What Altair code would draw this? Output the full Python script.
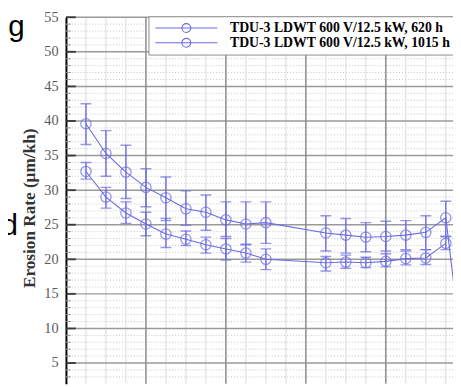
import altair as alt
import pandas as pd

# ---- data ----
series_names = ["TDU-3 LDWT 600 V/12.5 kW, 620 h", "TDU-3 LDWT 600 V/12.5 kW, 1015 h"]
x_pos = [1, 2, 3, 4, 5, 6, 7, 8, 9, 10, 13, 14, 15, 16, 17, 18, 19]

upper = [39.6, 35.3, 32.6, 30.4, 28.9, 27.3, 26.8, 25.7, 25.1, 25.3, 23.8, 23.5, 23.2, 23.3, 23.5, 23.9, 26.0]
upper_hi = [42.5, 38.6, 36.5, 33.1, 31.9, 29.9, 29.3, 28.3, 28.3, 28.3, 26.3, 25.9, 25.3, 25.5, 25.6, 26.3, 28.4]
upper_lo = [36.6, 32.0, 28.8, 27.6, 25.6, 24.9, 24.2, 23.3, 22.1, 22.3, 21.2, 20.9, 21.1, 21.2, 21.4, 21.4, 23.3]

lower = [32.7, 29.0, 26.7, 25.1, 23.65, 22.9, 22.1, 21.5, 20.9, 20.0, 19.5, 19.6, 19.5, 19.7, 20.1, 20.2, 22.3]
lower_hi = [34.0, 30.4, 28.3, 26.8, 25.9, 24.1, 23.2, 23.0, 22.2, 21.5, 20.4, 20.6, 20.3, 20.8, 21.2, 21.4, 23.3]
lower_lo = [31.6, 27.4, 25.2, 23.4, 21.7, 22.0, 20.9, 19.9, 19.6, 18.5, 18.3, 18.7, 18.8, 18.9, 19.2, 19.25, 21.4]

# continuation of the upper curve beyond the right edge (cut off)
upper_next_x = [20]
upper_next_y = [2.0]

y_major = [5, 10, 15, 20, 25, 30, 35, 40, 45, 50, 55]
y_minor = [v for v in range(3, 55) if v % 5 != 0]
x_major = [4, 8, 12, 16]
x_minor = [v for v in range(1, 20) if v % 4 != 0]

COLOR = "#6a6ae6"
SERIF = "Liberation Serif"

# ---- tables ----
pts = pd.DataFrame({
    "series": [series_names[0]] * len(x_pos) + [series_names[1]] * len(x_pos),
    "x": x_pos + x_pos,
    "y": upper + lower,
    "hi": upper_hi + lower_hi,
    "lo": upper_lo + lower_lo,
})
line_df = pd.concat([
    pts[["series", "x", "y"]],
    pd.DataFrame({"series": [series_names[0]] * len(upper_next_x), "x": upper_next_x, "y": upper_next_y}),
], ignore_index=True)

xs = alt.Scale(domain=[0, 19.36], nice=False, zero=False)
ys = alt.Scale(domain=[2.02, 55], nice=False, zero=False)

yaxis = alt.Axis(
    values=y_major, tickSize=0, labelPadding=8, labelFont=SERIF, labelFontSize=14.5,
    labelColor="#5a5a5a", domainColor="black", domainWidth=2, grid=False,
    title="Erosion Rate (µm/kh)", titleFont=SERIF, titleFontWeight="bold", titleFontSize=17.5,
    titleColor="#333333", titleAngle=-90, titleX=-37, titleY=194, titleAlign="center",
    titleBaseline="middle",
)


def Y(field):
    return alt.Y(field, scale=ys, axis=yaxis)


def X(field):
    return alt.X(field, scale=xs, axis=None)


grid_minor_h = alt.Chart(pd.DataFrame({"v": y_minor})).mark_rule(
    color="#c4c4c4", strokeWidth=1, strokeDash=[1, 2]
).encode(y=Y("v:Q"))
grid_minor_v = alt.Chart(pd.DataFrame({"v": x_minor})).mark_rule(
    color="#dadada", strokeWidth=1
).encode(x=X("v:Q"))
grid_major_h = alt.Chart(pd.DataFrame({"v": y_major})).mark_rule(
    color="#9a9a9a", strokeWidth=1.5
).encode(y=Y("v:Q"))
grid_major_v = alt.Chart(pd.DataFrame({"v": x_major})).mark_rule(
    color="#8a8a8a", strokeWidth=1.5
).encode(x=X("v:Q"))
minor_ticks = alt.Chart(pd.DataFrame({"v": y_minor})).mark_tick(
    orient="horizontal", size=5, thickness=1, color="#777777"
).encode(y=Y("v:Q"), x=alt.value(2.5))
inward_ticks = alt.Chart(pd.DataFrame({"v": y_major})).mark_tick(
    orient="horizontal", size=10, thickness=2, color="#111111"
).encode(y=Y("v:Q"), x=alt.value(5))

err = alt.Chart(pts).mark_rule(color=COLOR, strokeWidth=1.4, clip=True).encode(
    x=X("x:Q"), y=Y("lo:Q"), y2="hi:Q",
)
cap_hi = alt.Chart(pts).mark_tick(orient="horizontal", size=11, thickness=1.4, color=COLOR, clip=True).encode(
    x=X("x:Q"), y=Y("hi:Q"))
cap_lo = alt.Chart(pts).mark_tick(orient="horizontal", size=11, thickness=1.4, color=COLOR, clip=True).encode(
    x=X("x:Q"), y=Y("lo:Q"))

# legend sample: line with a circle in the middle (path units scaled by r = sqrt(size)/2 = 4.5 px)
legend_symbol = "M-1.1,0H12.9M6.9,0A1,1,0,1,1,4.9,0A1,1,0,1,1,6.9,0"

lines = alt.Chart(line_df).mark_line(strokeWidth=1.1, clip=True).encode(
    x=X("x:Q"),
    y=Y("y:Q"),
    color=alt.Color("series:N", title=None,
                    scale=alt.Scale(domain=series_names, range=[COLOR, COLOR]),
                    legend=alt.Legend(
                        orient="none", legendX=84, legendY=-1, direction="vertical",
                        fillColor="white", strokeColor="#8c8c8c", padding=5,
                        symbolType=legend_symbol, symbolSize=81, symbolStrokeWidth=1.1,
                        symbolFillColor="transparent", symbolStrokeColor=COLOR,
                        labelFont=SERIF, labelFontWeight="bold", labelFontSize=14,
                        labelColor="black", labelOffset=64, rowPadding=1, labelLimit=400,
                    )),
)
points = alt.Chart(pts).mark_point(shape="circle", filled=False, size=110, strokeWidth=1.3,
                                   color=COLOR, clip=True).encode(
    x=X("x:Q"), y=Y("y:Q"))

side_text = pd.DataFrame({"t": ["ng", "d"]})
ng = alt.Chart(side_text.iloc[[0]]).mark_text(
    font="Liberation Sans", fontSize=30, align="right", baseline="alphabetic", color="black"
).encode(text="t:N", x=alt.value(-42), y=alt.value(19))
dd = alt.Chart(side_text.iloc[[1]]).mark_text(
    font="Liberation Sans", fontSize=30, align="right", baseline="alphabetic", color="black"
).encode(text="t:N", x=alt.value(-49), y=alt.value(222))

chart = alt.layer(
    grid_minor_h, grid_minor_v, grid_major_h, grid_major_v,
    err, cap_hi, cap_lo, lines, points, minor_ticks, inward_ticks, ng, dd,
).properties(
    width=394, height=373,
    autosize=alt.AutoSizeParams(type="none"),
    padding={"left": 59, "top": 6, "right": 0, "bottom": 0},
).configure_view(strokeWidth=0)

chart.save("out.html", embed_options={"renderer": "svg", "actions": False})
